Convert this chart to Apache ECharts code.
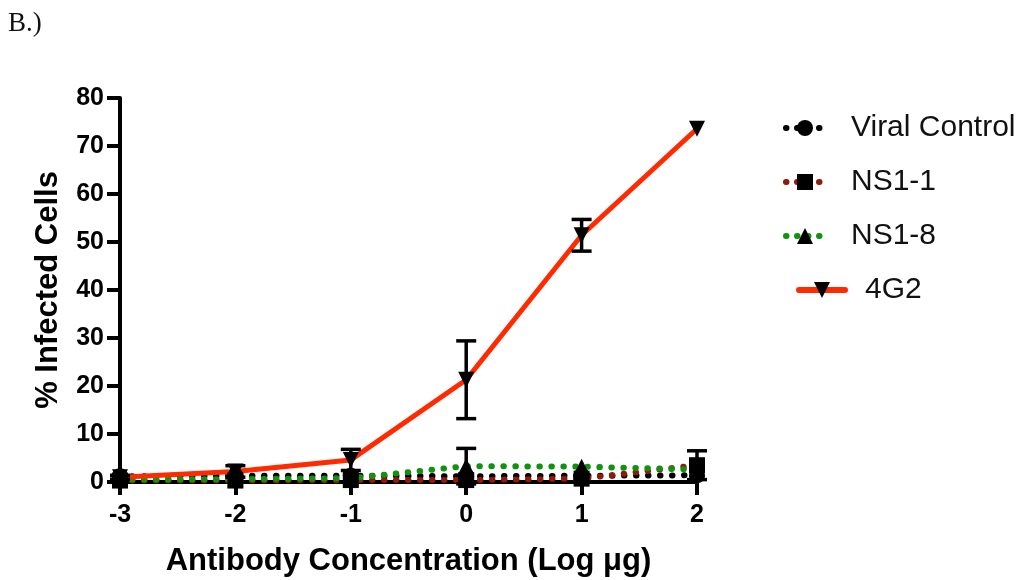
<!DOCTYPE html>
<html>
<head>
<meta charset="utf-8">
<script src="https://cdn.jsdelivr.net/npm/echarts@6/dist/echarts.min.js"></script>
<style>
html, body { margin: 0; padding: 0; background: #ffffff; }
#chart { width: 1021px; height: 580px; }
</style>
</head>
<body>
<div id="chart"></div>
<script>
// Antibody dose (log10 µg) on the x axis
const logDose = [-3, -2, -1, 0, 1, 2];

// % infected cells, mean and SD for each treatment
const viralControl = [1.2, 1.3, 1.3, 1.2, 1.3, 1.4];
const ns11 = [0.3, 0.3, 0.4, 0.4, 0.7, 3.5];
const ns11Sd = [0, 0, 0, 0, 0, 3.0];
const ns18 = [0.5, 0.6, 0.8, 3.3, 3.2, 2.6];
const ns18Sd = [0, 0, 0, 3.7, 0, 0];
const mab4G2 = [1.0, 2.2, 4.6, 21.3, 51.4, 73.6];
const mab4G2Sd = [0.4, 1.2, 2.2, 8.1, 3.3, 0];

const seriesNames = ['Viral Control', 'NS1-1', 'NS1-8', '4G2'];
const xTitle = 'Antibody Concentration (Log \u03bcg)';
const yTitle = '% Infected Cells';
const panelLabel = 'B.)';

const FONT = '"Liberation Sans", Arial, sans-serif';

function pairs(ys) {
  return logDose.map((x, i) => [x, ys[i]]);
}

// Vertical SD whiskers with caps, placed through the axes' own scales
function errorBars(name, means, sds) {
  const rows = [];
  logDose.forEach((x, i) => {
    if (sds[i] > 0) rows.push([x, means[i] - sds[i], means[i] + sds[i]]);
  });
  return {
    type: 'custom',
    name: name,
    silent: true,
    clip: false,
    z: 3,
    data: rows,
    encode: { x: 0, y: [1, 2] },
    renderItem: function (params, api) {
      const lo = api.coord([api.value(0), api.value(1)]);
      const hi = api.coord([api.value(0), api.value(2)]);
      const half = 10;
      const st = { stroke: '#000', lineWidth: 3.5 };
      return {
        type: 'group',
        children: [
          { type: 'line', shape: { x1: hi[0], y1: hi[1], x2: lo[0], y2: lo[1] }, style: st },
          { type: 'line', shape: { x1: hi[0] - half, y1: hi[1], x2: hi[0] + half, y2: hi[1] }, style: st },
          { type: 'line', shape: { x1: lo[0] - half, y1: lo[1], x2: lo[0] + half, y2: lo[1] }, style: st }
        ]
      };
    }
  };
}

const dotted = [0.5, 11.5];

function dottedSeries(name, ys, color, symbol) {
  return {
    type: 'line',
    name: name,
    data: pairs(ys),
    symbol: symbol,
    symbolSize: 16,
    showAllSymbol: true,
    clip: false,
    z: 2,
    itemStyle: { color: '#000' },
    lineStyle: { color: color, width: 6, type: dotted, cap: 'round' }
  };
}

const chart = echarts.init(document.getElementById('chart'), null, { renderer: 'canvas' });

function legendText(gap) {
  return { fontFamily: FONT, fontSize: 30, color: '#111', lineHeight: 30, padding: [0, 0, 0, gap] };
}

chart.setOption({
  animation: false,
  backgroundColor: '#ffffff',
  grid: { left: 120, right: 324, top: 98, bottom: 98, containLabel: false, outerBoundsMode: 'none' },
  graphic: [
    {
      type: 'text',
      left: 8,
      top: 10,
      style: { text: panelLabel, font: '27px "Liberation Serif", "Times New Roman", serif', fill: '#111' }
    }
  ],
  legend: [
    {
      orient: 'vertical',
      left: 783,
      top: 113,
      padding: 0,
      itemWidth: 38,
      itemHeight: 20,
      itemGap: 24,
      selectedMode: false,
      data: seriesNames.slice(0, 3),
      lineStyle: { width: 6, type: [0.5, 10.5], cap: 'round' },
      textStyle: legendText(22)
    },
    {
      orient: 'vertical',
      left: 796,
      top: 275,
      padding: 0,
      itemWidth: 46,
      itemHeight: 20,
      selectedMode: false,
      data: [seriesNames[3]],
      lineStyle: { width: 6, cap: 'round' },
      textStyle: legendText(15)
    }
  ],
  xAxis: {
    type: 'value',
    min: -3,
    max: 2,
    interval: 1,
    name: xTitle,
    nameLocation: 'middle',
    nameGap: 64,
    nameTextStyle: { fontFamily: FONT, fontSize: 31, fontWeight: 'bold', color: '#000' },
    splitLine: { show: false },
    axisLine: { onZero: false, lineStyle: { color: '#000', width: 4 } },
    axisTick: { length: 13, lineStyle: { color: '#000', width: 4 } },
    axisLabel: { fontFamily: FONT, fontSize: 25, fontWeight: 'bold', color: '#000', margin: 21 }
  },
  yAxis: {
    type: 'value',
    min: 0,
    max: 80,
    interval: 10,
    name: yTitle,
    nameLocation: 'middle',
    nameGap: 56,
    nameTextStyle: { fontFamily: FONT, fontSize: 31, fontWeight: 'bold', color: '#000' },
    splitLine: { show: false },
    axisLine: { show: true, onZero: false, lineStyle: { color: '#000', width: 4 } },
    axisTick: { show: true, length: 13, lineStyle: { color: '#000', width: 4 } },
    axisLabel: { fontFamily: FONT, fontSize: 25, fontWeight: 'bold', color: '#000', margin: 16 }
  },
  series: [
    dottedSeries(seriesNames[0], viralControl, '#000000', 'circle'),
    dottedSeries(seriesNames[1], ns11, '#921a0c', 'rect'),
    dottedSeries(seriesNames[2], ns18, '#0e940e', 'triangle'),
    {
      type: 'line',
      name: seriesNames[3],
      data: pairs(mab4G2),
      symbol: 'triangle',
      symbolRotate: 180,
      symbolSize: 16,
      clip: false,
      z: 2,
      itemStyle: { color: '#000' },
      lineStyle: { color: '#ff2a00', width: 5, cap: 'round', join: 'round' }
    },
    errorBars('NS1-1 SD', ns11, ns11Sd),
    errorBars('NS1-8 SD', ns18, ns18Sd),
    errorBars('4G2 SD', mab4G2, mab4G2Sd)
  ]
});
</script>
</body>
</html>
